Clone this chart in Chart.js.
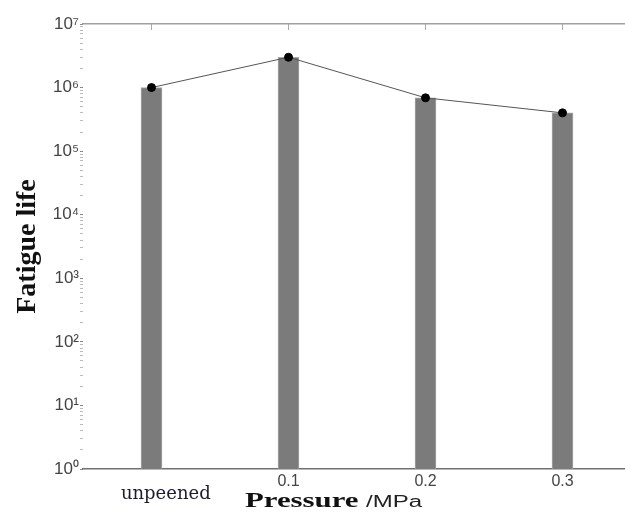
<!DOCTYPE html>
<html>
<head>
<meta charset="utf-8">
<script src="https://cdn.jsdelivr.net/npm/chart.js@4"></script>
<style>
  html, body { margin: 0; padding: 0; background: #fff; overflow: hidden; }
  #wrap { position: relative; width: 636px; height: 515px; }
</style>
</head>
<body>
<div id="wrap"><canvas id="myChart"></canvas></div>
<script>
const ctx = document.getElementById('myChart');

// categories on the x axis
var pressures = ['unpeened', '0.1', '0.2', '0.3']
// fatigue life
var fatigueLife = [1.0e6, 3.0e6, 6.9e5, 4.0e5]
// y axis range (powers of ten)
var yMin = 1
var yMax = 1e7
var supDigits = ['⁰', '¹', '²', '³', '⁴', '⁵', '⁶', '⁷', '⁸', '⁹']

//helper functions
function isPow10(v) {
  let l = Math.log10(v)
  return Math.abs(l - Math.round(l)) < 1e-9
}

function powLabel(v) {
  let e = Math.round(Math.log10(v))
  return '10' + String(e).split('').map(d => supDigits[+d]).join('')
}

// x axis title: bold serif "Pressure" + sans "/MPa", both stretched like the figure
const xTitlePlugin = {
  id: 'xTitle',
  afterDraw(chart) {
    let c = chart.ctx
    let area = chart.chartArea
    c.save()
    c.fillStyle = '#111'
    c.textBaseline = 'alphabetic'
    c.textAlign = 'left'
    c.translate(area.left + 162, 507)
    c.scale(1.4, 1)
    c.font = 'bold 22px "Liberation Serif"'
    c.fillText('Pressure', 0, 0)
    c.restore()

    c.save()
    c.fillStyle = '#222'
    c.textBaseline = 'alphabetic'
    c.textAlign = 'left'
    c.translate(area.left + 283, 507)
    c.scale(1.5, 1)
    c.font = '16px "Liberation Sans"'
    c.fillText('/MPa', 0, 0)
    c.restore()
  }
}

let chart = new Chart(ctx, {
  type: 'bar',
  data: {
    labels: pressures,
    datasets: [{
      type: 'line',
      label: 'fatigue life',
      data: fatigueLife,
      borderColor: '#555',
      borderWidth: 1,
      pointRadius: 4,
      pointBackgroundColor: '#000',
      pointBorderColor: '#000',
      order: 1
    }, {
      label: 'bars',
      data: fatigueLife,
      backgroundColor: '#7b7b7b',
      borderColor: '#a8a8a8',
      borderWidth: 1,
      barThickness: 21,
      order: 2
    }]
  },
  options: {
    responsive: true,
    maintainAspectRatio: false,
    animation: false,
    layout: { padding: { top: 24, left: 0, right: 0, bottom: 0 } },
    plugins: {
      legend: { display: false },
      tooltip: { enabled: false }
    },
    scales: {
      x: {
        type: 'category',
        position: 'bottom',
        grid: { display: false, drawTicks: false },
        border: { display: true, color: '#707070', width: 1.5 },
        ticks: {
          padding: 3,
          autoSkip: false,
          maxRotation: 0,
          color: (c) => c.index === 0 ? '#1c1c2e' : '#444',
          font: (c) => c.index === 0
            ? { family: 'DejaVu Serif', size: 18, lineHeight: 0.84 }
            : { family: 'Liberation Sans', size: 16, lineHeight: 1.2 },
          callback: function (value, index) {
            let lab = this.getLabelForValue(value)
            // the first label sits lower and a bit to the right in the figure
            return index === 0 ? ['', '     ' + lab] : lab
          }
        },
        afterFit: (scale) => { scale.height = 46 }
      },
      x2: {
        type: 'category',
        position: 'top',
        labels: pressures,
        offset: true,
        grid: { display: true, offset: false, drawOnChartArea: false, drawTicks: true, tickLength: -6, tickColor: '#aaa' },
        border: { display: true, color: '#a0a0a0', width: 1.5 },
        ticks: { display: false },
        afterFit: (scale) => { scale.height = 0 }
      },
      y: {
        type: 'logarithmic',
        min: yMin,
        max: yMax,
        border: { display: false },
        grid: {
          display: true,
          drawOnChartArea: false,
          drawTicks: true,
          tickLength: 3,
          tickColor: (c) => (c.tick && isPow10(c.tick.value)) ? '#888' : '#bbb'
        },
        afterBuildTicks: (scale) => {
          // keep 1..9 x 10^n only
          scale.ticks = scale.ticks.filter(t => {
            let m = t.value / Math.pow(10, Math.floor(Math.log10(t.value) + 1e-9))
            return Math.abs(m - Math.round(m)) < 1e-6
          })
        },
        ticks: {
          autoSkip: false,
          padding: 1,
          color: '#444',
          font: { family: 'Liberation Sans', size: 17 },
          callback: (v) => isPow10(v) ? powLabel(v) : ''
        },
        title: {
          display: true,
          text: 'Fatigue life',
          color: '#111',
          font: { family: 'Liberation Serif', size: 28, weight: 'bold' },
          padding: { top: 11, bottom: 0 }
        },
        afterFit: (scale) => { scale.width = 83 }
      }
    }
  },
  plugins: [xTitlePlugin]
});
</script>
</body>
</html>
